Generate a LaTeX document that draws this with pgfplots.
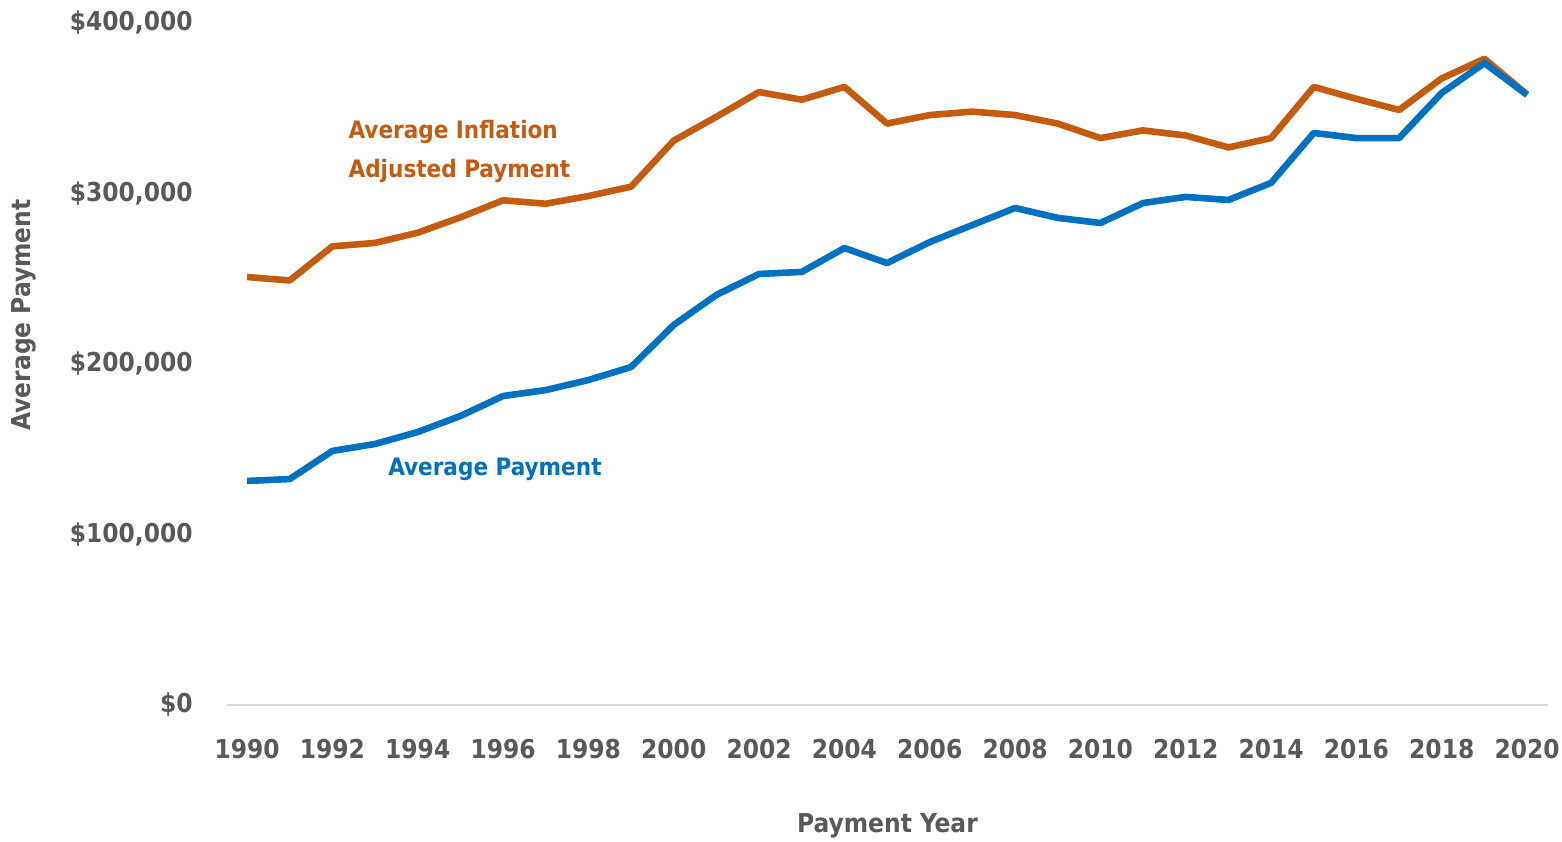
\documentclass[border=0pt]{standalone}
\usepackage{fontspec}
\setmainfont{DejaVu Sans Condensed}
\usepackage{pgfplots}
\pgfplotsset{compat=1.18}
\definecolor{orng}{HTML}{C55A11}
\definecolor{blu}{HTML}{0070C0}
\definecolor{txtgray}{HTML}{595959}
\definecolor{axgray}{HTML}{D9D9D9}

\begin{document}
\begin{tikzpicture}
\begin{axis}[
  scale only axis,
  width=660.5pt, height=341pt,
  xmin=1989.53, xmax=2020.49,
  ymin=0, ymax=400000,
  scaled y ticks=false,
  axis x line*=bottom, axis y line*=left,
  x axis line style={axgray, line width=1pt},
  y axis line style={draw=none},
  major tick length=0pt,
  xtick={1990,1992,1994,1996,1998,2000,2002,2004,2006,2008,2010,2012,2014,2016,2018,2020},
  xticklabels={1990,1992,1994,1996,1998,2000,2002,2004,2006,2008,2010,2012,2014,2016,2018,2020},
  ytick={0,100000,200000,300000,400000},
  yticklabels={\$0,\$100{,}000,\$200{,}000,\$300{,}000,\$400{,}000},
  tick label style={font=\fontsize{13}{15}\selectfont\bfseries, text=txtgray, inner sep=0pt},
  xticklabel style={anchor=north, yshift=-17pt},
  yticklabel style={anchor=east, xshift=-17pt},
  xlabel={Payment Year},
  ylabel={Average Payment},
  label style={font=\fontsize{13}{15}\selectfont\bfseries, text=txtgray, inner sep=0pt},
  xlabel style={at={(axis description cs:0.5,0)}, anchor=center, yshift=-60.5pt},
  ylabel style={at={(axis description cs:-0.1537,0.572)}, anchor=center},
  clip=false,
]
\addplot[orng, line width=3.3pt, line join=round] coordinates {
(1990,251000) (1991,249000) (1992,269000) (1993,271000) (1994,277000)
(1995,286000) (1996,296000) (1997,294000) (1998,298500) (1999,304000)
(2000,331000) (2001,345000) (2002,359500) (2003,355000) (2004,362500)
(2005,341000) (2006,346000) (2007,348000) (2008,346000) (2009,341000)
(2010,332500) (2011,337000) (2012,334000) (2013,327000) (2014,332500)
(2015,362500) (2016,355500) (2017,349000) (2018,367500) (2019,379000)
(2020,358000)
};
\addplot[blu, line width=3.3pt, line join=round] coordinates {
(1990,131400) (1991,132500) (1992,149000) (1993,153100) (1994,160100)
(1995,169500) (1996,181200) (1997,184700) (1998,190600) (1999,198200)
(2000,222900) (2001,240500) (2002,252800) (2003,254000) (2004,268000)
(2005,259200) (2006,271500) (2007,281500) (2008,291500) (2009,285700)
(2010,282700) (2011,294400) (2012,298000) (2013,296200) (2014,306200)
(2015,335500) (2016,332500) (2017,332500) (2018,359000) (2019,376500)
(2020,357800)
};
\node[anchor=west, align=left, text=orng, inner sep=0pt,
      font=\fontsize{12}{19.5}\selectfont\bfseries]
  at (axis cs:1992.37,324900) {Average Inflation\\Adjusted Payment};
\node[anchor=west, text=blu, inner sep=0pt,
      font=\fontsize{12}{19.5}\selectfont\bfseries]
  at (axis cs:1993.3,138400) {Average Payment};
\end{axis}
\pgfresetboundingbox
\path ([shift={(-113.5pt,-68.5pt)}]current axis.south west)
  rectangle ([shift={(7pt,11.5pt)}]current axis.north east);
\end{tikzpicture}
\end{document}
